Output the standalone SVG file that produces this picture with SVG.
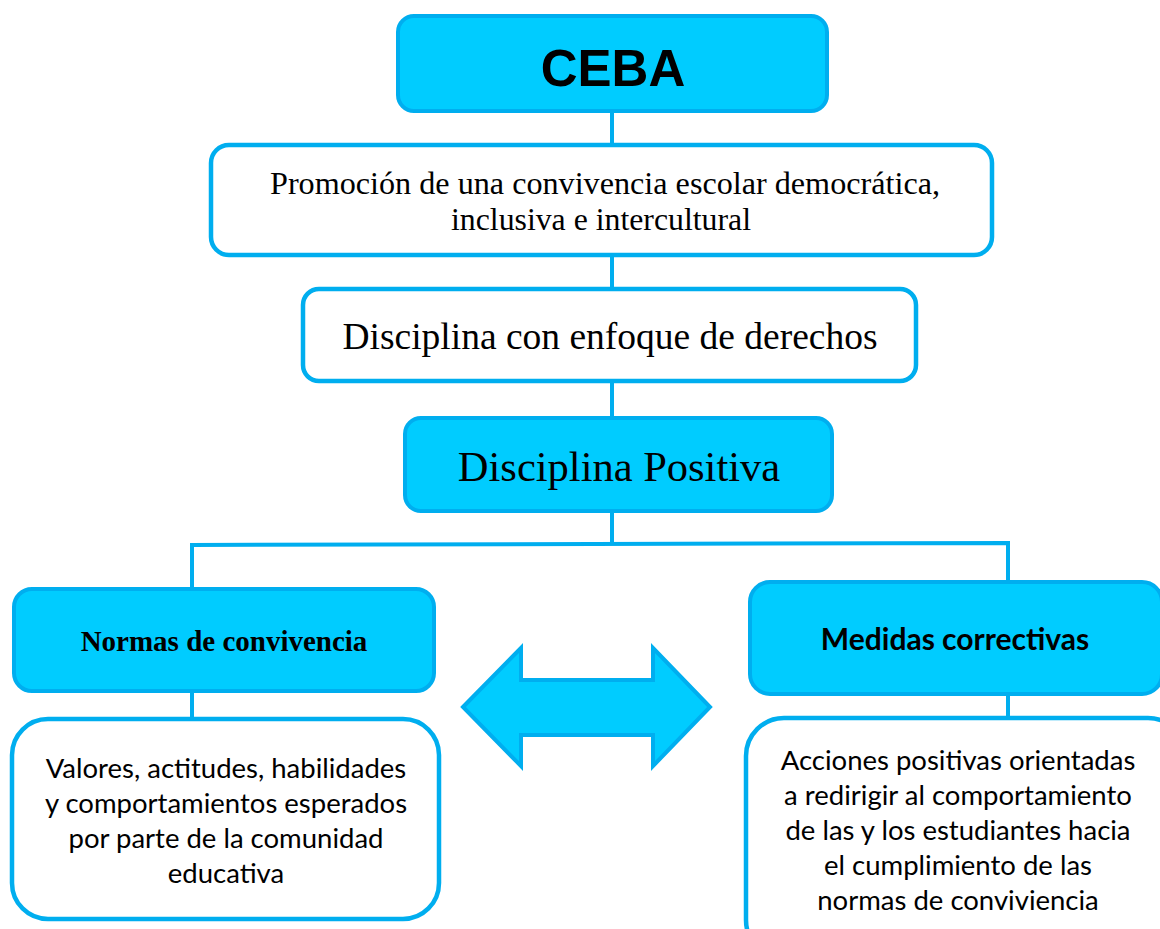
<svg xmlns="http://www.w3.org/2000/svg" width="1160" height="929" viewBox="0 0 1160 929">
<style>
.blue{fill:#00CCFF;stroke:#00AEEF;stroke-width:4}
.white{fill:#FFFFFF;stroke:#00AEEF;stroke-width:4.5}
.conn{stroke:#00AEEF;stroke-width:4;fill:none}
.serif{font-family:"Liberation Serif","Times New Roman",serif;fill:#000;text-anchor:middle}
.sans{font-family:Lato,"Open Sans","Liberation Sans",sans-serif;fill:#000;text-anchor:middle}
.body{font-size:27.5px}
</style>
<rect width="1160" height="929" fill="#FFFFFF"/>
<g id="connectors">
<line class="conn" x1="612" y1="112" x2="612" y2="143"/>
<line class="conn" x1="612" y1="256" x2="612" y2="288"/>
<line class="conn" x1="612" y1="382" x2="612" y2="417"/>
<line class="conn" x1="612" y1="512" x2="612" y2="545"/>
<polyline class="conn" points="192,590 192,545 1008,543 1008,583"/>
<line class="conn" x1="192" y1="692" x2="192" y2="718"/>
<line class="conn" x1="1008" y1="695" x2="1008" y2="717"/>
</g>
<g id="ceba">
<rect class="blue" x="398" y="16" width="429" height="95" rx="16"/>
<text x="613" y="86" font-family="Liberation Sans,Arial,sans-serif" font-weight="bold" font-size="51" text-anchor="middle">CEBA</text>
</g>
<g id="promocion">
<rect class="white" x="211" y="145" width="781" height="110" rx="18"/>
<text class="serif" x="605" y="194" font-size="31" textLength="670" lengthAdjust="spacingAndGlyphs">Promoción de una convivencia escolar democrática,</text>
<text class="serif" x="601" y="230" font-size="31" textLength="300" lengthAdjust="spacingAndGlyphs">inclusiva e intercultural</text>
</g>
<g id="disciplina-derechos">
<rect class="white" x="303" y="289" width="613" height="92" rx="16"/>
<text class="serif" x="610" y="349" font-size="37.5">Disciplina con enfoque de derechos</text>
</g>
<g id="disciplina-positiva">
<rect class="blue" x="405" y="418" width="427" height="93" rx="16"/>
<text class="serif" x="619" y="481" font-size="42.5">Disciplina Positiva</text>
</g>
<g id="normas">
<rect class="blue" x="14" y="589" width="420" height="102" rx="18"/>
<text class="serif" x="224" y="651" font-size="29" font-weight="bold">Normas de convivencia</text>
</g>
<g id="medidas">
<rect class="blue" x="750" y="582" width="412" height="112" rx="20"/>
<text class="sans" x="955" y="650" font-size="30" font-weight="bold">Medidas correctivas</text>
</g>
<g id="doble-flecha">
<polygon class="blue" points="463,707 521,648 521,680 653,680 653,648 710,707 653,766 653,735 521,735 521,766"/>
</g>
<g id="valores">
<rect class="white" x="12" y="719" width="427" height="200" rx="36"/>
<text class="sans body" x="226" y="778">Valores, actitudes, habilidades</text>
<text class="sans body" x="226" y="813">y comportamientos esperados</text>
<text class="sans body" x="226" y="848">por parte de la comunidad</text>
<text class="sans body" x="226" y="883">educativa</text>
</g>
<g id="acciones">
<rect class="white" x="746" y="718" width="440" height="240" rx="38"/>
<text class="sans body" x="958" y="770">Acciones positivas orientadas</text>
<text class="sans body" x="958" y="805">a redirigir al comportamiento</text>
<text class="sans body" x="958" y="840">de las y los estudiantes hacia</text>
<text class="sans body" x="958" y="875">el cumplimiento de las</text>
<text class="sans body" x="958" y="910">normas de conviviencia</text>
</g>
</svg>
